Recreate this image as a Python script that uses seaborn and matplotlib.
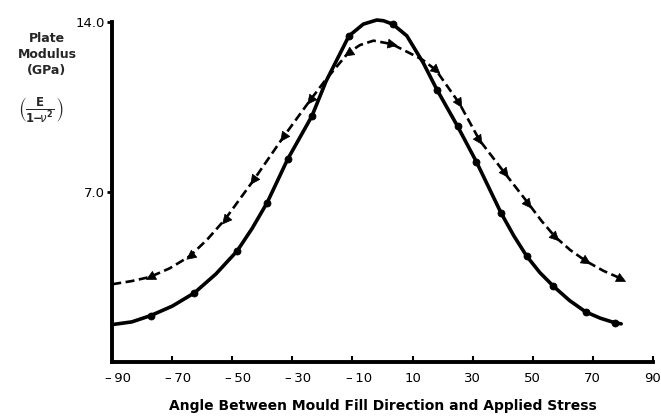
import numpy as np
import matplotlib
matplotlib.use("Agg")
import matplotlib.pyplot as plt
import matplotlib.transforms as mtransforms
from matplotlib.markers import MarkerStyle
import seaborn as sns

# ---- data ----
solid_curve_angle = [-90, -83.5, -77.2, -70.0, -62.7, -55.5, -48.4, -43.4, -38.4, -31.6, -23.5,
                     -18.8, -11.2, -6.4, -1.9, 0.3, 3.4, 8.1, 13.6, 18.1, 25.0, 31.3, 39.5,
                     43.7, 48.0, 52.4, 56.9, 62.3, 67.7, 72.6, 77.5, 79.5]
solid_curve_modulus = [1.54, 1.65, 1.91, 2.30, 2.84, 3.62, 4.57, 5.50, 6.56, 8.34, 10.12,
                       11.55, 13.41, 13.90, 14.07, 14.04, 13.90, 13.42, 12.30, 11.21, 9.70, 8.23, 6.13,
                       5.20, 4.36, 3.68, 3.12, 2.53, 2.06, 1.80, 1.61, 1.57]

dashed_curve_angle = [-90, -83.5, -77.4, -70.8, -64.1, -58.3, -52.5, -43.0, -33.0, -24.1, -18.8,
                      -11.4, -7.5, -3.0, 3.1, 11.4, 13.5, 17.8, 25.6, 32.3, 40.8, 48.6, 53.0,
                      57.5, 62.6, 67.8, 73.6, 79.5]
dashed_curve_modulus = [3.20, 3.33, 3.50, 3.86, 4.36, 5.05, 5.86, 7.47, 9.26, 10.77, 11.63,
                        12.72, 13.04, 13.22, 13.08, 12.56, 12.42, 12.01, 10.64, 9.13, 7.76, 6.52, 5.80,
                        5.15, 4.60, 4.15, 3.75, 3.43]

circle_angle = [-77.2, -62.7, -48.4, -38.4, -31.6, -23.5, -11.2, 3.4,
                18.1, 25.0, 31.3, 39.5, 48.0, 56.9, 67.7, 77.5]
circle_modulus = [1.91, 2.84, 4.57, 6.56, 8.34, 10.12, 13.41, 13.90,
                  11.21, 9.70, 8.23, 6.13, 4.36, 3.12, 2.06, 1.61]

triangle_angle = [-77.4, -64.1, -52.5, -43.0, -33.0, -24.1, -11.4, 3.1,
                  17.8, 25.6, 32.3, 40.8, 48.6, 57.5, 67.8, 79.5]
triangle_modulus = [3.50, 4.36, 5.86, 7.47, 9.26, 10.77, 12.72, 13.08,
                    12.01, 10.64, 9.13, 7.76, 6.52, 5.15, 4.15, 3.43]

x_ticks = [-90, -70, -50, -30, -10, 10, 30, 50, 70, 90]
x_tick_labels = ["\u2013\u200990", "\u2013\u200970", "\u2013\u200950", "\u2013\u200930", "\u2013\u200910",
                 "10", "30", "50", "70", "90"]
y_ticks = [7.0, 14.0]
y_tick_labels = ["7.0", "14.0"]

x_label = "Angle Between Mould Fill Direction and Applied Stress"
y_label = "Plate\nModulus\n(GPa)"
y_formula = r"$\left(\frac{\mathbf{E}}{\mathbf{1}\!\mathbf{-}\!\nu^{\mathbf{2}}}\right)$"

# ---- style ----
sns.set_theme(style="white")
plt.rcParams["font.family"] = ["DejaVu Sans"]
plt.rcParams["mathtext.fontset"] = "dejavusans"

W, H = 661, 420
fig = plt.figure(figsize=(W / 100, H / 100), dpi=100)
fig.patch.set_facecolor("white")
ax = fig.add_axes([112.3 / W, 58 / H, 540.4 / W, 340.3 / H])
ax.set_facecolor("white")
ax.set_xlim(-90, 90)
ax.set_ylim(0, 14)

# curves
sns.lineplot(x=solid_curve_angle, y=solid_curve_modulus, ax=ax, color="black",
             linewidth=2.6, sort=False, estimator=None, clip_on=False, zorder=3)
sns.lineplot(x=dashed_curve_angle, y=dashed_curve_modulus, ax=ax, color="black",
             linewidth=1.9, linestyle=(0, (3.4, 1.7)), sort=False, estimator=None,
             clip_on=False, zorder=3)
for ln in ax.get_lines():
    ln.set_solid_joinstyle("round")
    ln.set_dash_joinstyle("round")

# circle markers
sns.scatterplot(x=circle_angle, y=circle_modulus, ax=ax, marker="o", s=26,
                color="black", edgecolor="black", linewidth=0.5, zorder=4, clip_on=False)

# triangle markers, pointing along the curve away from the centre
tri_disp = ax.transData.transform(np.column_stack([triangle_angle, triangle_modulus]))
grad = np.gradient(tri_disp, axis=0)
theta = np.degrees(np.arctan2(grad[:, 1], grad[:, 0]))
for xa, ya, th in zip(triangle_angle, triangle_modulus, theta):
    direction = th + 180 if xa < 0 else th
    m = MarkerStyle("^").rotated(deg=direction - 90)
    sns.scatterplot(x=[xa], y=[ya], ax=ax, marker=m, s=42, color="black",
                    edgecolor="black", linewidth=0.5, zorder=4, clip_on=False)

# axes styling
for side in ["top", "right"]:
    ax.spines[side].set_visible(False)
for side in ["left", "bottom"]:
    ax.spines[side].set_linewidth(2.8)
    ax.spines[side].set_color("black")
    ax.spines[side].set_capstyle("projecting")

ax.set_xticks(x_ticks)
ax.set_xticklabels(x_tick_labels)
ax.set_yticks(y_ticks)
ax.set_yticklabels(y_tick_labels)
ax.tick_params(axis="x", direction="in", length=4.5, width=1.5, pad=7.5,
               labelsize=9.5, colors="black", bottom=True)
ax.tick_params(axis="y", direction="out", length=3.6, width=2.0, pad=2,
               labelsize=9.5, colors="black", left=True)

# shift negative labels so the digits sit under the tick
offset = mtransforms.ScaledTranslation(4.4 / 72, 0, fig.dpi_scale_trans)
for lab, val in zip(ax.get_xticklabels(), x_ticks):
    if val < 0:
        lab.set_transform(lab.get_transform() + offset)

ax.set_xlabel(x_label, fontsize=10, fontweight="bold", labelpad=10, color="black")
ax.set_ylabel("")
if ax.get_legend() is not None:
    ax.get_legend().remove()

fig.text(47 / W, 1 - 32 / H, y_label, ha="center", va="top", fontsize=9,
         fontweight="bold", linespacing=1.3)
fig.text(41 / W, 1 - 110 / H, y_formula, ha="center", va="center", fontsize=12)

fig.savefig("out.png", dpi=100, facecolor="white")
